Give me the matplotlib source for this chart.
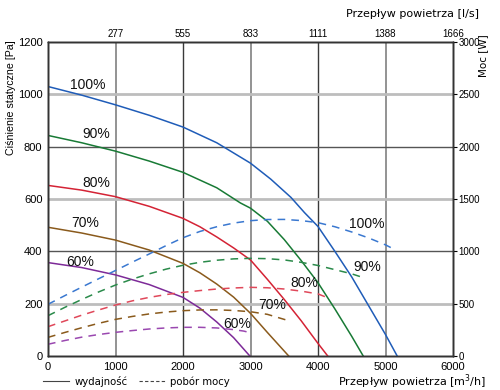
import matplotlib
matplotlib.use("Agg")
import matplotlib.pyplot as plt

plt.rcParams['font.family'] = ['Liberation Sans', 'DejaVu Sans']

# Static pressure curves (Pa) vs flow (m3/h)
flow_100 = [0, 500, 1000, 1500, 2000, 2500, 3000, 3300, 3600, 3800, 4000, 4250, 4500, 4750, 5000, 5173]
pa_100 = [1030, 997, 960, 920, 875, 815, 737, 676, 606, 548, 495, 400, 302, 192, 82, 0]
flow_90 = [0, 500, 1000, 1500, 2000, 2500, 2850, 3000, 3250, 3500, 3750, 4000, 4250, 4500, 4670]
pa_90 = [843, 815, 783, 745, 702, 643, 585, 565, 515, 445, 365, 280, 180, 75, 0]
flow_80 = [0, 500, 1000, 1500, 2000, 2250, 2500, 2750, 3000, 3250, 3500, 3750, 4000, 4144]
pa_80 = [652, 634, 609, 572, 526, 494, 455, 413, 367, 293, 216, 135, 48, 0]
flow_70 = [0, 500, 1000, 1500, 2000, 2250, 2500, 2750, 3000, 3250, 3566]
pa_70 = [492, 470, 443, 405, 354, 318, 275, 225, 163, 90, 0]
flow_60 = [0, 500, 1000, 1500, 2000, 2250, 2500, 2750, 2990]
pa_60 = [357, 338, 310, 273, 224, 183, 130, 70, 0]

# Power curves (W) vs flow (m3/h)
pflow_100 = [0, 250, 500, 750, 1000, 1250, 1500, 1750, 2000, 2250, 2500, 2750, 3000,
             3250, 3500, 3750, 4000, 4250, 4500, 4750, 5000, 5148]
w_100 = [494, 577, 658, 738, 817, 897, 975, 1055, 1130, 1190, 1235, 1270, 1293,
         1304, 1305, 1294, 1274, 1235, 1185, 1128, 1062, 1013]
pflow_90 = [0, 250, 500, 750, 1000, 1250, 1500, 1750, 2000, 2250, 2500, 2750, 3000,
            3250, 3500, 3750, 4000, 4250, 4500, 4703]
w_90 = [385, 465, 540, 612, 678, 735, 785, 830, 867, 895, 915, 928, 933,
        930, 918, 895, 865, 825, 785, 742]
pflow_80 = [0, 250, 500, 750, 1000, 1250, 1500, 1750, 2000, 2250, 2500, 2750, 3000,
            3250, 3500, 3750, 4000, 4169]
w_80 = [280, 335, 390, 440, 487, 527, 560, 587, 608, 625, 640, 650, 656,
        652, 640, 620, 593, 550]
pflow_70 = [0, 250, 500, 750, 1000, 1250, 1500, 1750, 2000, 2250, 2500, 2750, 3000, 3250, 3566]
w_70 = [178, 225, 270, 312, 350, 378, 402, 420, 433, 440, 441, 435, 423, 398, 337]
pflow_60 = [0, 250, 500, 750, 1000, 1250, 1500, 1750, 2000, 2250, 2500, 2750, 2900, 3000]
w_60 = [112, 148, 180, 205, 226, 243, 258, 268, 274, 274, 268, 252, 238, 222]

x_ticks = [0, 1000, 2000, 3000, 4000, 5000, 6000]
top_ticks = [1000, 2000, 3000, 4000, 5000, 6000]
top_labels = ['277', '555', '833', '1111', '1388', '1666']
y_ticks = [0, 200, 400, 600, 800, 1000, 1200]
y2_ticks = [0, 500, 1000, 1500, 2000, 2500, 3000]

labels = ['100%', '90%', '80%', '70%', '60%']
colors = ['#1f5cb8', '#187a35', '#d42335', '#8a5a1c', '#7d2a98']
dcolors = ['#3a78d0', '#2a8a4a', '#e0485a', '#8a5a1c', '#9a48b0']

fig = plt.figure(figsize=(5, 3.9), dpi=100)
ax = fig.add_axes([0.096, 0.0872, 0.81, 0.805])
ax.set_xlim(0, 6000)
ax.set_ylim(0, 1200)

# grid
for xv in [1000, 3000, 5000]:
    ax.axvline(xv, color='#8a8a8a', lw=1.3, zorder=1)
for xv in [2000, 4000]:
    ax.axvline(xv, color='#3a3a3a', lw=1.0, zorder=1)
for yv in [200, 600, 1000]:
    ax.axhline(yv, color='#bdbdbd', lw=2.0, zorder=1)
for yv in [400, 800]:
    ax.axhline(yv, color='#555555', lw=1.0, zorder=1)

solid = [(flow_100, pa_100), (flow_90, pa_90), (flow_80, pa_80), (flow_70, pa_70), (flow_60, pa_60)]
for (fx, fy), c in zip(solid, colors):
    ax.plot(fx, fy, color=c, lw=1.1, zorder=3)

ax2 = ax.twinx()
ax2.set_ylim(0, 3000)
power = [(pflow_100, w_100), (pflow_90, w_90), (pflow_80, w_80), (pflow_70, w_70), (pflow_60, w_60)]
for (fx, fy), c in zip(power, dcolors):
    ax2.plot(fx, fy, color=c, lw=1.1, ls=(0, (5, 4)), zorder=3)

# percent labels
solid_pos = [(593, 1035), (712, 848), (712, 661), (549, 508), (475, 359)]
dash_pos = [(4718, 504), (4733, 340), (3798, 279), (3323, 195), (2804, 122)]
for lab, (px, py) in zip(labels, solid_pos):
    ax.text(px, py, lab, fontsize=10, ha='center', va='center', color='#111111', zorder=5)
for lab, (px, py) in zip(labels, dash_pos):
    ax.text(px, py, lab, fontsize=10, ha='center', va='center', color='#111111', zorder=5)

ax.set_xticks(x_ticks)
ax.set_yticks(y_ticks)
ax.tick_params(axis='both', length=0, labelsize=8, pad=4)
ax2.set_yticks(y2_ticks)
ax2.tick_params(axis='y', length=3, labelsize=7, pad=1)

ax3 = ax.twiny()
ax3.set_xlim(0, 6000)
ax3.set_xticks(top_ticks)
ax3.set_xticklabels(top_labels)
ax3.tick_params(axis='x', length=0, labelsize=7, pad=2)

for a in (ax, ax2, ax3):
    for s in a.spines.values():
        s.set_color('#333333')
        s.set_linewidth(1.0)

fig.text(0.022, 0.75, 'Ciśnienie statyczne [Pa]', rotation=90, ha='center', va='center', fontsize=7.7)
fig.text(0.966, 0.858, 'Moc [W]', rotation=90, ha='center', va='center', fontsize=7.5, family='DejaVu Sans')
fig.text(0.958, 0.963, 'Przepływ powietrza [l/s]', ha='right', va='center', fontsize=8, family='DejaVu Sans')
fig.text(0.972, 0.022, 'Przepływ powietrza [m$^3$/h]', ha='right', va='center', fontsize=8, family='DejaVu Sans')

# legend
fig.lines.append(plt.Line2D([0.086, 0.138], [0.022, 0.022], color='#444444', lw=0.8, transform=fig.transFigure))
fig.text(0.15, 0.022, 'wydajność', ha='left', va='center', fontsize=7.3, family='DejaVu Sans')
fig.lines.append(plt.Line2D([0.277, 0.33], [0.022, 0.022], color='#444444', lw=0.8, ls=(0, (3, 2)), transform=fig.transFigure))
fig.text(0.34, 0.022, 'pobór mocy', ha='left', va='center', fontsize=7.3, family='DejaVu Sans')

fig.savefig('out.png', dpi=100)
